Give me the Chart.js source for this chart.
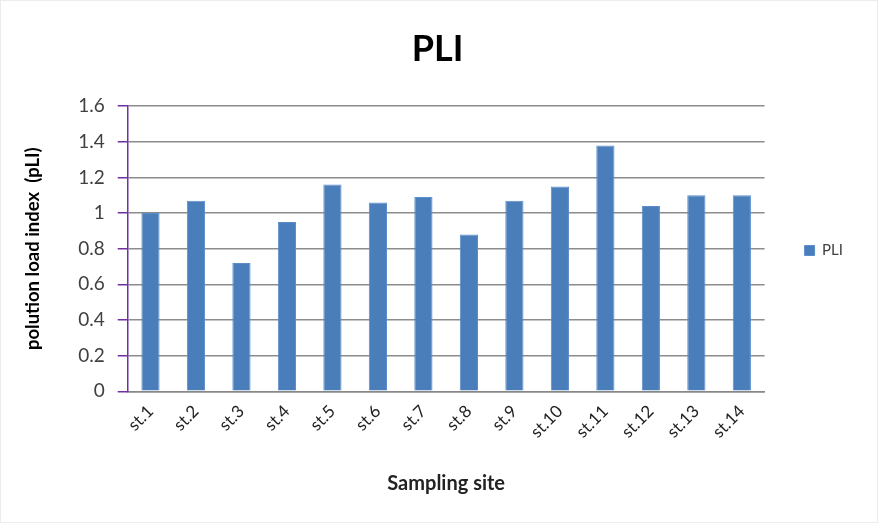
<!DOCTYPE html>
<html>
<head>
<meta charset="utf-8">
<script src="https://cdn.jsdelivr.net/npm/chart.js@4/dist/chart.umd.min.js"></script>
<style>
    html, body { margin: 0; padding: 0; background: #fff; }
    #wrap { position: relative; width: 878px; height: 523px; box-sizing: border-box; border: 1px solid #ececec; }
</style>
</head>
<body>
<div id="wrap"><canvas id="pliChart" width="876" height="521"></canvas></div>
<script>
// chart data
const sites = ['st.1', 'st.2', 'st.3', 'st.4', 'st.5', 'st.6', 'st.7', 'st.8', 'st.9', 'st.10', 'st.11', 'st.12', 'st.13', 'st.14'];
const pliValues = [1.0, 1.07, 0.72, 0.95, 1.16, 1.06, 1.09, 0.88, 1.07, 1.15, 1.38, 1.04, 1.10, 1.10];
const yTicks = [0, 0.2, 0.4, 0.6, 0.8, 1, 1.2, 1.4, 1.6];

const fontFamily = 'Lato, "Open Sans", sans-serif';

const ctx = document.getElementById('pliChart').getContext('2d');
const pliChart = new Chart(ctx, {
    type: 'bar',
    data: {
        labels: sites,
        datasets: [
            {
                label: 'PLI',
                data: pliValues,
                backgroundColor: '#4a7ebb',
                borderColor: '#5b8dca',
                borderWidth: 1,
                categoryPercentage: 1,
                barPercentage: 0.4
            }
        ]
    },
    options: {
        responsive: false,
        animation: false,
        layout: { padding: { left: 21, right: 24, top: 0, bottom: 22 } },
        plugins: {
            title: {
                display: true,
                text: 'PLI',
                color: '#000',
                font: { family: fontFamily, size: 36, weight: 'bold' },
                padding: { top: 27, bottom: 35 }
            },
            legend: {
                position: 'right',
                labels: {
                    boxWidth: 10,
                    boxHeight: 10,
                    padding: 40,
                    color: '#404040',
                    font: { family: fontFamily, size: 15 }
                }
            },
            tooltip: { enabled: false }
        },
        scales: {
            x: {
                grid: { display: false },
                border: { color: '#888', width: 1.5 },
                ticks: {
                    color: '#222',
                    maxRotation: 45,
                    minRotation: 45,
                    padding: 2,
                    font: { family: fontFamily, size: 17 }
                },
                title: {
                    display: true,
                    text: 'Sampling site',
                    color: '#222',
                    font: { family: fontFamily, size: 20, weight: 'bold' },
                    padding: { top: 28 }
                }
            },
            y: {
                min: 0,
                max: 1.6,
                afterBuildTicks: scale => { scale.ticks = yTicks.map(v => ({ value: v })); },
                grid: { color: '#8c8c8c', lineWidth: 1.5, tickColor: '#7030a0', tickLength: 10 },
                border: { color: '#7030a0', width: 1.5 },
                ticks: {
                    color: '#404040',
                    padding: 13,
                    font: { family: fontFamily, size: 19 },
                    callback: v => String(v)
                },
                title: {
                    display: true,
                    text: 'polution load index  (pLI)',
                    color: '#000',
                    font: { family: fontFamily, size: 18.5, weight: 'bold' },
                    padding: { top: 0, bottom: 21 }
                }
            }
        }
    }
});
</script>
</body>
</html>
